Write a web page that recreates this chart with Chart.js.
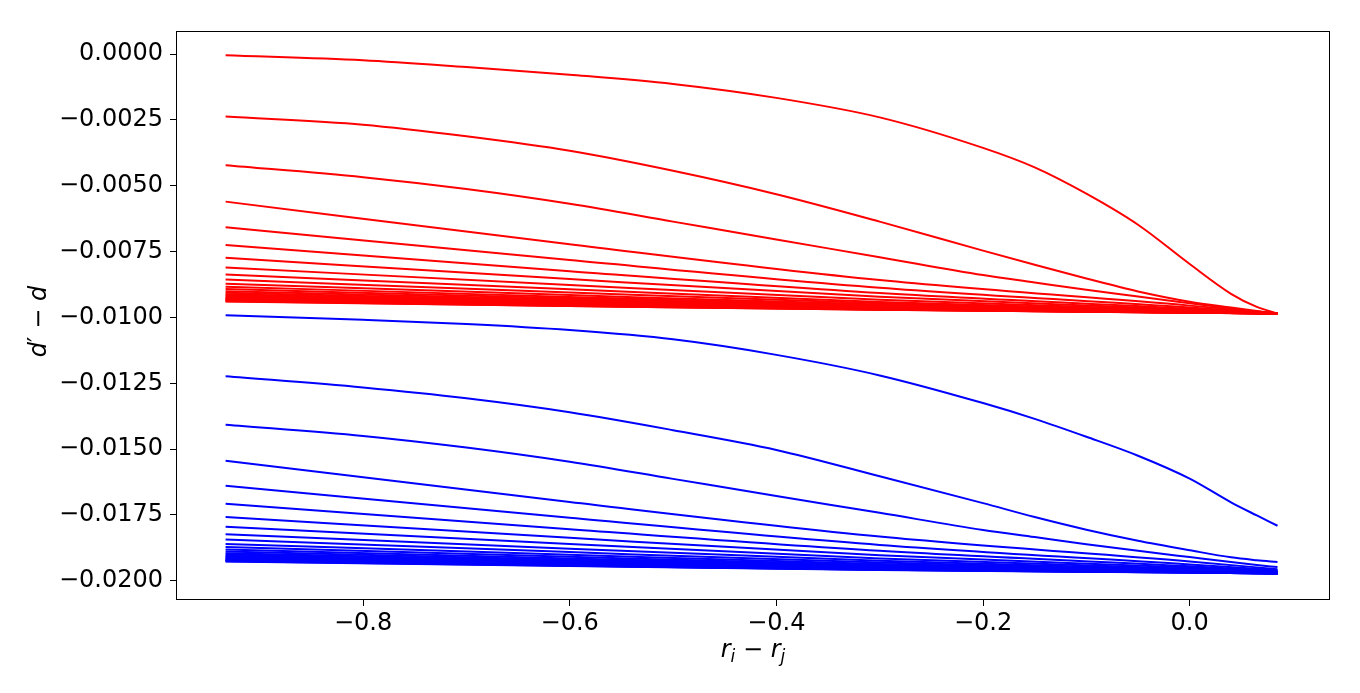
<!DOCTYPE html>
<html lang="en">
<head>
  <meta charset="UTF-8" />
  <title>d' - d vs r_i - r_j</title>
  <script src="https://cdn.jsdelivr.net/npm/chart.js"></script>
  <style>
    html, body { margin: 0; padding: 0; background: #fff; }
    #wrap { width: 1360px; height: 693px; position: relative; }
  </style>
</head>
<body>
  <div id="wrap"><canvas id="chart" width="1360" height="693"></canvas></div>

  <script>
    // x positions (fine grid for the strongly curved lines, coarse for the near-straight ones)
    const xFine = [-0.933, -0.8, -0.7, -0.6, -0.5, -0.4, -0.3, -0.2, -0.15, -0.1, -0.05, 0, 0.04, 0.065, 0.085];
    const xCoarse = [-0.933, -0.6, -0.3, 0, 0.085];

    const xTicks = [-0.8, -0.6, -0.4, -0.2, 0.0];
    const yTicks = [0, -0.0025, -0.005, -0.0075, -0.01, -0.0125, -0.015, -0.0175, -0.02];

    // red family, first three curves
    const redFine = [
      [-0.00004, -0.00023, -0.00049, -0.00078, -0.00113, -0.00166, -0.0024, -0.00356, -0.0043, -0.0053, -0.00648, -0.00797, -0.0091, -0.0096, -0.00985],
      [-0.00237, -0.00268, -0.00312, -0.00367, -0.00443, -0.00532, -0.00636, -0.00746, -0.008, -0.00852, -0.00901, -0.0094, -0.00962, -0.00975, -0.00985],
      [-0.00422, -0.00467, -0.00512, -0.00568, -0.00636, -0.00704, -0.00771, -0.00839, -0.00867, -0.00895, -0.0092, -0.00946, -0.00965, -0.00977, -0.00985]
    ];
    // red family, the rest (on xCoarse)
    const redCoarse = [
      [-0.0056, -0.00722, -0.00858, -0.00955, -0.00985],
      [-0.00657, -0.00782, -0.00887, -0.00962, -0.00985],
      [-0.00725, -0.00824, -0.00907, -0.00967, -0.00985],
      [-0.00773, -0.00854, -0.00921, -0.0097, -0.00985],
      [-0.0081, -0.00877, -0.00933, -0.00973, -0.00985],
      [-0.00837, -0.00893, -0.00941, -0.00975, -0.00985],
      [-0.00856, -0.00905, -0.00946, -0.00976, -0.00985],
      [-0.00872, -0.00915, -0.00951, -0.00977, -0.00985],
      [-0.00883, -0.00922, -0.00954, -0.00978, -0.00985],
      [-0.00892, -0.00927, -0.00957, -0.00978, -0.00985],
      [-0.009, -0.00932, -0.0096, -0.00979, -0.00985],
      [-0.00906, -0.00936, -0.00961, -0.00979, -0.00985],
      [-0.00912, -0.0094, -0.00963, -0.0098, -0.00985],
      [-0.00916, -0.00942, -0.00964, -0.0098, -0.00985],
      [-0.0092, -0.00945, -0.00966, -0.0098, -0.00985],
      [-0.00924, -0.00947, -0.00967, -0.00981, -0.00985],
      [-0.00927, -0.00949, -0.00968, -0.00981, -0.00985],
      [-0.00929, -0.0095, -0.00968, -0.00981, -0.00985],
      [-0.00932, -0.00952, -0.00969, -0.00981, -0.00985],
      [-0.00934, -0.00953, -0.0097, -0.00981, -0.00985],
      [-0.00936, -0.00955, -0.0097, -0.00982, -0.00985],
      [-0.00938, -0.00956, -0.00971, -0.00982, -0.00985],
      [-0.00939, -0.00956, -0.00971, -0.00982, -0.00985]
    ];

    // blue family, first three curves
    const blueFine = [
      [-0.00992, -0.01009, -0.01025, -0.01048, -0.01083, -0.01142, -0.0122, -0.01325, -0.01385, -0.01453, -0.01525, -0.01612, -0.01702, -0.01752, -0.01791],
      [-0.01223, -0.01266, -0.01307, -0.0136, -0.01428, -0.01503, -0.01603, -0.01705, -0.01758, -0.01806, -0.01848, -0.01884, -0.01911, -0.01922, -0.01929],
      [-0.01407, -0.0145, -0.01494, -0.01548, -0.01613, -0.01678, -0.01742, -0.01807, -0.01834, -0.01861, -0.01886, -0.0191, -0.01929, -0.0194, -0.01948]
    ];
    // blue family, the rest (on xCoarse)
    const blueCoarse = [
      [-0.01544, -0.01701, -0.01832, -0.01927, -0.01956],
      [-0.01639, -0.01761, -0.01864, -0.01938, -0.0196],
      [-0.01707, -0.01804, -0.01886, -0.01945, -0.01963],
      [-0.01758, -0.01837, -0.01903, -0.0195, -0.01965],
      [-0.01795, -0.0186, -0.01915, -0.01954, -0.01966],
      [-0.01823, -0.01878, -0.01924, -0.01957, -0.01967],
      [-0.01843, -0.01891, -0.01931, -0.01959, -0.01968],
      [-0.0186, -0.01901, -0.01936, -0.01961, -0.01969],
      [-0.01872, -0.01909, -0.0194, -0.01962, -0.01969],
      [-0.01881, -0.01915, -0.01943, -0.01964, -0.0197],
      [-0.01889, -0.0192, -0.01946, -0.01964, -0.0197],
      [-0.01895, -0.01924, -0.01948, -0.01965, -0.0197],
      [-0.019, -0.01927, -0.0195, -0.01966, -0.01971],
      [-0.01905, -0.0193, -0.01951, -0.01966, -0.01971],
      [-0.01909, -0.01933, -0.01952, -0.01967, -0.01971],
      [-0.01912, -0.01934, -0.01953, -0.01967, -0.01971],
      [-0.01915, -0.01937, -0.01955, -0.01968, -0.01972],
      [-0.01918, -0.01939, -0.01956, -0.01968, -0.01972],
      [-0.0192, -0.0194, -0.01956, -0.01968, -0.01972],
      [-0.01922, -0.01941, -0.01957, -0.01969, -0.01972],
      [-0.01924, -0.01942, -0.01958, -0.01969, -0.01972],
      [-0.01926, -0.01943, -0.01958, -0.01969, -0.01972],
      [-0.01927, -0.01944, -0.01959, -0.01969, -0.01972]
    ];

    const FONT = "'DejaVu Sans', sans-serif";

    function makeSet(xs, ys, color) {
      return {
        data: xs.map((x, i) => ({ x: x, y: ys[i] })),
        borderColor: color,
        borderWidth: 2,
        pointRadius: 0,
        fill: false,
        cubicInterpolationMode: 'monotone'
      };
    }

    const datasets = [];
    redFine.forEach(ys => datasets.push(makeSet(xFine, ys, '#ff0000')));
    redCoarse.forEach(ys => datasets.push(makeSet(xCoarse, ys, '#ff0000')));
    blueFine.forEach(ys => datasets.push(makeSet(xFine, ys, '#0000ff')));
    blueCoarse.forEach(ys => datasets.push(makeSet(xCoarse, ys, '#0000ff')));

    const minus = s => s.replace('-', '\u2212');

    // frame around the plot + math-style axis titles
    const framePlugin = {
      id: 'frame',
      afterDraw(chart) {
        const { ctx, chartArea: a } = chart;
        ctx.save();
        ctx.strokeStyle = '#000';
        ctx.lineWidth = 1;
        ctx.strokeRect(Math.round(a.left) + 0.5, Math.round(a.top) + 0.5,
                       Math.round(a.right - a.left) - 1, Math.round(a.bottom - a.top) - 1);

        ctx.fillStyle = '#000';
        ctx.textBaseline = 'alphabetic';
        const big = "24px " + FONT, bigI = "italic 24px " + FONT, small = "italic 17px " + FONT;

        // x title: r_i − r_j
        const parts = [
          { t: 'r', f: bigI, dy: 0 }, { t: 'i', f: small, dy: 5 },
          { t: ' \u2212 ', f: big, dy: 0 },
          { t: 'r', f: bigI, dy: 0 }, { t: 'j', f: small, dy: 5 }
        ];
        let w = 0;
        parts.forEach(p => { ctx.font = p.f; p.w = ctx.measureText(p.t).width; w += p.w; });
        let x = (a.left + a.right) / 2 - w / 2;
        parts.forEach(p => { ctx.font = p.f; ctx.fillText(p.t, x, 657 + p.dy); x += p.w; });

        // y title: d′ − d (rotated)
        const yparts = [
          { t: 'd', f: bigI, dy: 0 }, { t: '\u2032', f: big, dy: -1 },
          { t: ' \u2212 ', f: big, dy: 0 }, { t: 'd', f: bigI, dy: 0 }
        ];
        w = 0;
        yparts.forEach(p => { ctx.font = p.f; p.w = ctx.measureText(p.t).width; w += p.w; });
        ctx.translate(46, (a.top + a.bottom) / 2 + 6);
        ctx.rotate(-Math.PI / 2);
        x = -w / 2;
        yparts.forEach(p => { ctx.font = p.f; ctx.fillText(p.t, x, p.dy); x += p.w; });
        ctx.restore();
      }
    };

    new Chart(document.getElementById('chart').getContext('2d'), {
      type: 'line',
      data: { datasets },
      options: {
        responsive: false,
        animation: false,
        events: [],
        layout: { padding: { left: 0, top: 31, right: 30, bottom: 0 } },
        plugins: { legend: { display: false }, tooltip: { enabled: false } },
        scales: {
          x: {
            type: 'linear',
            min: -0.981,
            max: 0.1358,
            afterBuildTicks: s => { s.ticks = xTicks.map(v => ({ value: v })); },
            afterFit: s => { s.height = 93; },
            border: { display: false },
            grid: { drawOnChartArea: false, drawTicks: true, tickLength: 6, color: '#000', lineWidth: 1 },
            ticks: {
              color: '#000', padding: 3, maxRotation: 0,
              font: { family: FONT, size: 24 },
              callback: v => minus(v.toFixed(1))
            }
          },
          y: {
            type: 'linear',
            min: -0.02073,
            max: 0.00088,
            afterBuildTicks: s => { s.ticks = yTicks.map(v => ({ value: v })); },
            afterFit: s => { s.width = 176; },
            border: { display: false },
            grid: { drawOnChartArea: false, drawTicks: true, tickLength: 6, color: '#000', lineWidth: 1 },
            ticks: {
              color: '#000', padding: 7,
              font: { family: FONT, size: 24 },
              callback: v => minus(v.toFixed(4))
            }
          }
        }
      },
      plugins: [framePlugin]
    });
  </script>
</body>
</html>
